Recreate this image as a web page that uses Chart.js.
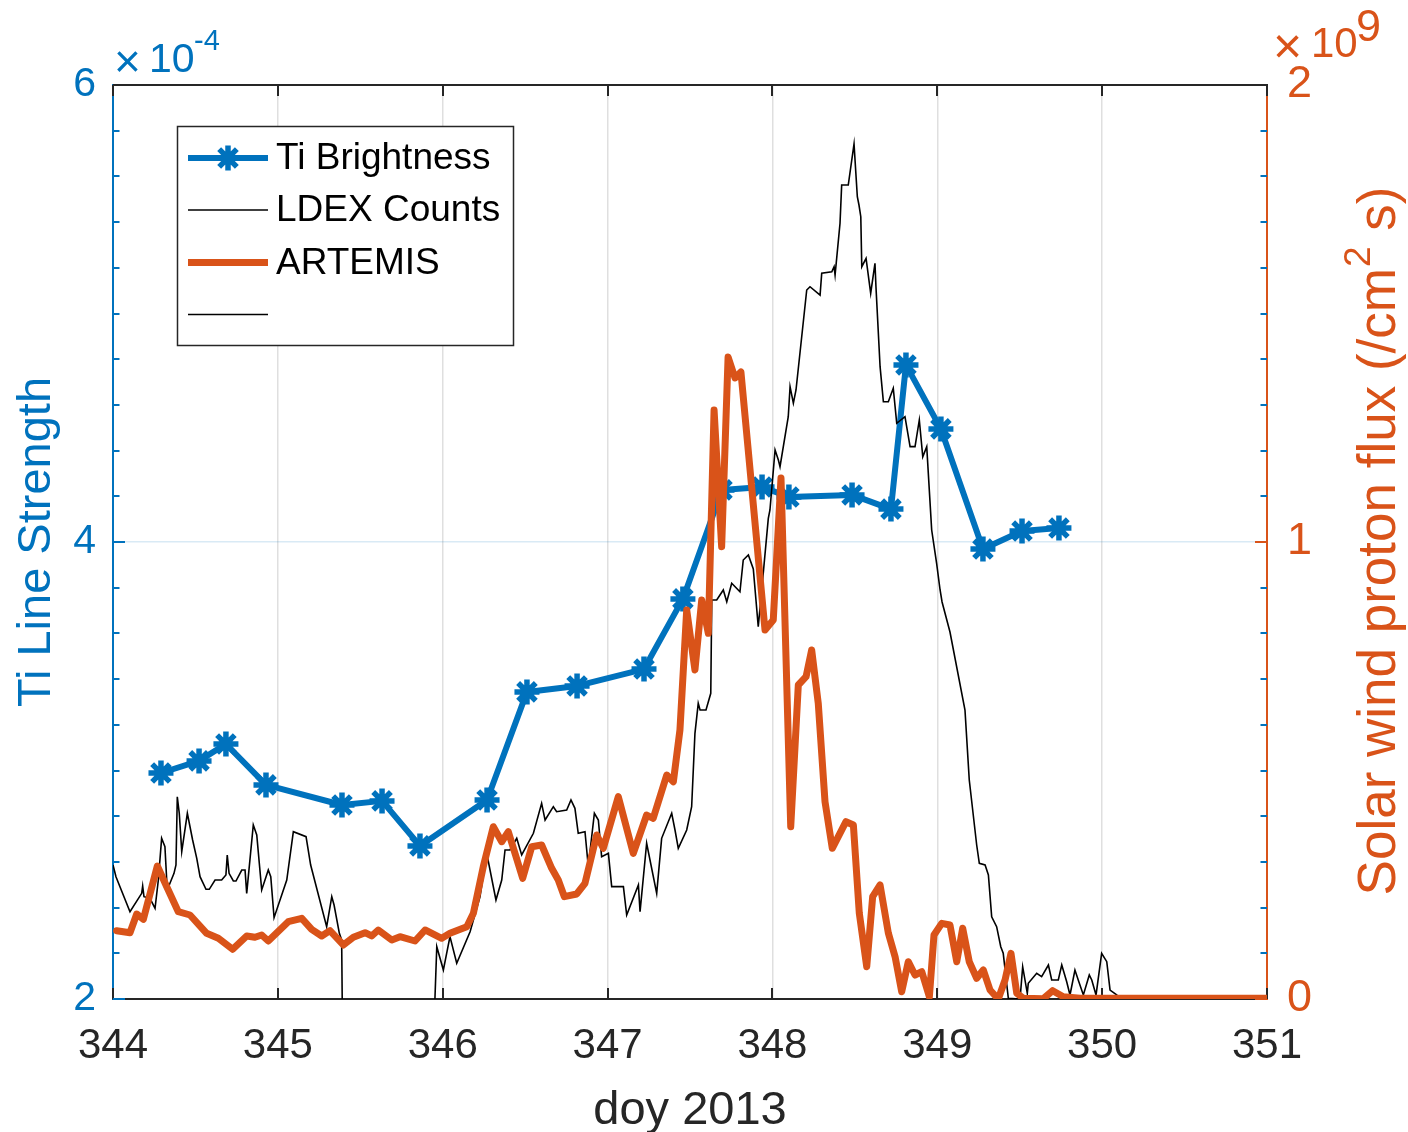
<!DOCTYPE html>
<html><head><meta charset="utf-8">
<script src="https://cdn.jsdelivr.net/npm/chart.js@4.4.1/dist/chart.umd.min.js"></script>
<style>html,body{margin:0;padding:0;background:#fff;overflow:hidden}canvas{display:block}</style>
</head><body>
<canvas id="c" width="1408" height="1132"></canvas>
<script>
const FONT = "'Liberation Sans', Arial, Helvetica, sans-serif";
const BLUE = '#0072BD', ORANGE = '#D95319', DARK = '#262626';

// ---- tick labels / axis texts ----
const xTickValues = [344, 345, 346, 347, 348, 349, 350, 351];
const leftTickValues = [2, 4, 6];       // x 10^-4
const rightTickValues = [0, 1, 2];      // x 10^9
const xTitle = 'doy 2013';
const leftTitle = 'Ti Line Strength';
const seriesNames = ['Ti Brightness', 'LDEX Counts', 'ARTEMIS', ''];

// ---- Ti brightness (units of 1e-4) ----
const tiDay = [344.291, 344.522, 344.685, 344.928, 345.389, 345.632, 345.862, 346.269, 346.511, 346.815, 347.221,
  347.457, 347.694, 347.937, 348.100, 348.483, 348.719, 348.810, 349.022, 349.277, 349.514, 349.738];
const tiBrightness = [2.989, 3.042, 3.116, 2.937, 2.849, 2.867, 2.670, 2.871, 3.344, 3.370, 3.444,
  3.751, 4.228, 4.241, 4.197, 4.206, 4.144, 4.775, 4.495, 3.969, 4.048, 4.061];

// ---- LDEX counts (arbitrary units, hidden axis 0..100) ----
const ldexDay = [344.000, 344.018, 344.103, 344.174, 344.180, 344.188, 344.224, 344.255, 344.275, 344.295,
  344.315, 344.329, 344.370, 344.382, 344.390, 344.402, 344.417, 344.451, 344.483, 344.508,
  344.528, 344.564, 344.584, 344.619, 344.659, 344.685, 344.693, 344.704, 344.730, 344.746,
  344.781, 344.801, 344.811, 344.851, 344.872, 344.902, 344.942, 344.957, 344.977, 345.054,
  345.094, 345.171, 345.199, 345.296, 345.327, 345.341, 345.373, 345.387, 345.393, 345.943,
  345.964, 346.004, 346.044, 346.085, 346.166, 346.226, 346.267, 346.323, 346.358, 346.378,
  346.408, 346.449, 346.479, 346.550, 346.600, 346.621, 346.671, 346.691, 346.752, 346.778,
  346.802, 346.822, 346.863, 346.883, 346.920, 346.944, 346.964, 347.005, 347.025, 347.096,
  347.116, 347.187, 347.197, 347.237, 347.298, 347.328, 347.389, 347.409, 347.429, 347.480,
  347.510, 347.530, 347.550, 347.561, 347.597, 347.626, 347.632, 347.662, 347.702, 347.723,
  347.753, 347.803, 347.823, 347.854, 347.884, 347.914, 347.935, 347.975, 347.985, 348.016,
  348.036, 348.046, 348.096, 348.107, 348.127, 348.143, 348.208, 348.228, 348.289, 348.299,
  348.360, 348.374, 348.380, 348.410, 348.420, 348.460, 348.495, 348.515, 348.525, 348.536,
  348.542, 348.568, 348.596, 348.622, 348.628, 348.653, 348.673, 348.703, 348.733, 348.754,
  348.804, 348.835, 348.865, 348.891, 348.912, 348.936, 348.966, 348.996, 349.017, 349.029,
  349.077, 349.168, 349.194, 349.239, 349.255, 349.290, 349.310, 349.330, 349.360, 349.385,
  349.400, 349.431, 349.502, 349.518, 349.546, 349.552, 349.603, 349.633, 349.674, 349.694,
  349.734, 349.755, 349.785, 349.805, 349.835, 349.855, 349.886, 349.922, 349.937, 349.963,
  349.997, 350.028, 350.048, 350.088, 350.108];
const ldexCounts = [14.66, 13.38, 9.55, 11.56, 12.36, 11.19, 11.02, 9.92, 13.02, 17.58,
  16.66, 11.93, 13.75, 14.66, 22.13, 20.32, 16.12, 20.32, 17.40, 15.39,
  13.38, 12.00, 12.00, 13.02, 13.02, 13.57, 15.76, 13.75, 12.91, 12.91,
  14.11, 14.11, 11.56, 19.04, 17.94, 11.93, 14.11, 13.38, 8.90, 13.02,
  18.30, 17.76, 14.66, 7.91, 11.19, 10.28, 7.19, 6.46, -5, -5,
  5.72, 3.17, 6.82, 3.91, 7.36, 11.19, 15.94, 10.83, 13.02, 16.30,
  16.30, 17.58, 15.76, 18.13, 21.41, 19.58, 21.04, 20.49, 20.68, 21.77,
  20.86, 18.13, 18.30, 14.48, 20.32, 19.58, 15.57, 15.94, 12.29, 12.29,
  9.19, 12.47, 9.55, 17.04, 11.56, 17.58, 20.32, 18.49, 16.49, 18.49,
  21.04, 29.07, 32.35, 31.62, 31.62, 33.45, 43.65, 43.65, 44.75, 43.47,
  45.48, 44.56, 48.03, 48.58, 47.05, 40.73, 44.75, 52.59, 53.50, 60.07,
  58.97, 58.24, 63.71, 66.99, 65.18, 66.63, 77.57, 77.93, 77.02, 79.40,
  79.57, 80.12, 79.21, 84.87, 89.06, 89.06, 93.55, 87.78, 86.87, 85.59,
  80.12, 81.04, 77.21, 80.49, 77.93, 69.18, 65.35, 65.35, 66.82, 62.99,
  63.71, 60.43, 60.43, 63.35, 59.33, 60.43, 51.31, 47.67, 44.75, 43.44,
  40.15, 31.62, 23.96, 16.85, 14.85, 14.66, 13.57, 9.00, 7.91, 5.72,
  5.00, 0.08, 0, 3.53, 0.62, 1.72, 2.81, 2.44, 3.72, 2.08,
  2.08, 3.72, 1.89, 0.44, 3.17, 2.08, 0.44, 2.63, 2.08, 0.44,
  5.00, 4.08, 0.98, 0.44, 0.08];

// ---- ARTEMIS solar wind proton flux (units of 1e9 /cm^2 s) ----
const artemisDay = [344.022, 344.103, 344.144, 344.184, 344.269, 344.326, 344.396, 344.467, 344.568, 344.639,
  344.726, 344.811, 344.861, 344.902, 344.942, 345.063, 345.145, 345.205, 345.266, 345.316,
  345.397, 345.458, 345.529, 345.569, 345.609, 345.691, 345.741, 345.832, 345.893, 345.994,
  346.044, 346.146, 346.186, 346.246, 346.307, 346.358, 346.398, 346.485, 346.540, 346.600,
  346.661, 346.701, 346.738, 346.813, 346.863, 346.934, 346.974, 347.065, 347.156, 347.237,
  347.277, 347.359, 347.399, 347.439, 347.480, 347.530, 347.571, 347.611, 347.646, 347.692,
  347.731, 347.773, 347.809, 347.955, 348.005, 348.052, 348.111, 348.157, 348.204, 348.238,
  348.278, 348.319, 348.363, 348.446, 348.491, 348.527, 348.572, 348.608, 348.653, 348.703,
  348.744, 348.784, 348.824, 348.865, 348.906, 348.952, 348.980, 349.027, 349.077, 349.118,
  349.154, 349.194, 349.239, 349.279, 349.320, 349.370, 349.411, 349.447, 349.482, 349.522,
  349.643, 349.700, 349.764, 349.866, 350.068, 350.998];
const artemisFlux = [0.1495, 0.1451, 0.1860, 0.1744, 0.2910, 0.2457, 0.1910, 0.1838, 0.1438, 0.1328,
  0.1088, 0.1379, 0.1350, 0.1400, 0.1269, 0.1692, 0.1766, 0.1525, 0.1379, 0.1495,
  0.1182, 0.1350, 0.1451, 0.1379, 0.1510, 0.1291, 0.1363, 0.1269, 0.1510, 0.1328,
  0.1438, 0.1582, 0.1875, 0.2895, 0.3770, 0.3442, 0.3661, 0.2641, 0.3333, 0.3370,
  0.2860, 0.2604, 0.2239, 0.2298, 0.2532, 0.3589, 0.3298, 0.4427, 0.3188, 0.4026,
  0.3954, 0.4902, 0.4755, 0.5886, 0.8512, 0.7199, 0.8731, 0.8002, 1.2888, 0.9897,
  1.4048, 1.3589, 1.3720, 0.8074, 0.8293, 1.1400, 0.3770, 0.6871, 0.7053, 0.7637,
  0.6470, 0.4317, 0.3298, 0.3880, 0.3807, 0.1875, 0.0707, 0.2239, 0.2495, 0.1444,
  0.0926, 0.0160, 0.0816, 0.0525, 0.0597, 0.0050, 0.1400, 0.1656, 0.1619, 0.0816,
  0.1547, 0.0816, 0.0453, 0.0635, 0.0197, 0.0000, 0.0416, 0.1000, 0.0125, 0.0015,
  0.0005, 0.0182, 0.0050, 0.0015, 0.0015, 0.0015];

const pts = (xs, ys) => xs.map((x, i) => ({x: x, y: ys[i]}));

function drawStar(ctx, cx, cy, r, lw, color) {
  ctx.save();
  ctx.strokeStyle = color; ctx.lineWidth = lw; ctx.lineCap = 'butt';
  ctx.beginPath();
  for (let k = 0; k < 4; k++) {
    const a = k * Math.PI / 4;
    ctx.moveTo(cx - r * Math.cos(a), cy - r * Math.sin(a));
    ctx.lineTo(cx + r * Math.cos(a), cy + r * Math.sin(a));
  }
  ctx.stroke();
  ctx.restore();
}

const decor = {
  id: 'decor',
  beforeDatasetsDraw(chart) {
    const {ctx, chartArea: a, scales} = chart;
    ctx.save();
    ctx.lineWidth = 2; ctx.lineCap = 'butt';
    // x tick marks, bottom and top (inward)
    ctx.strokeStyle = DARK;
    ctx.beginPath();
    xTickValues.forEach(v => {
      const px = Math.round(scales.x.getPixelForValue(v));
      ctx.moveTo(px, a.bottom); ctx.lineTo(px, a.bottom - 11);
      ctx.moveTo(px, a.top); ctx.lineTo(px, a.top + 11);
    });
    ctx.stroke();
    // left axis ticks (major + minor), mirrored minor ticks on right side
    ctx.strokeStyle = BLUE;
    ctx.beginPath();
    for (let k = 0; k <= 20; k++) {
      const v = leftTickValues[0] + k * (leftTickValues[1] - leftTickValues[0]) / 10;
      const py = Math.round(scales.y.getPixelForValue(v));
      const major = k % 10 === 0;
      ctx.moveTo(a.left, py); ctx.lineTo(a.left + (major ? 12 : 6.5), py);
      if (!major) { ctx.moveTo(a.right, py); ctx.lineTo(a.right - 6.5, py); }
    }
    ctx.stroke();
    // right axis major ticks
    ctx.strokeStyle = ORANGE;
    ctx.beginPath();
    rightTickValues.forEach(v => {
      const py = Math.round(scales.y2.getPixelForValue(v));
      ctx.moveTo(a.right, py); ctx.lineTo(a.right - 12, py);
    });
    ctx.stroke();
    // top frame line
    ctx.strokeStyle = DARK;
    ctx.beginPath(); ctx.moveTo(a.left, a.top); ctx.lineTo(a.right + 1, a.top); ctx.stroke();
    ctx.restore();
  },
  afterDraw(chart) {
    const {ctx} = chart;
    ctx.save();
    // ---- legend ----
    const box = {x: 177, y: 126, w: 336, h: 219};
    ctx.fillStyle = '#fff';
    ctx.fillRect(box.x, box.y, box.w, box.h);
    ctx.strokeStyle = DARK; ctx.lineWidth = 1.5;
    ctx.strokeRect(box.x + 0.5, box.y + 0.5, box.w, box.h);
    const rowY = [158, 210, 262.5, 314.5];
    chart.data.datasets.forEach((ds, i) => {
      const y = rowY[i];
      ctx.strokeStyle = ds.borderColor; ctx.lineWidth = ds.borderWidth; ctx.lineCap = 'butt';
      ctx.beginPath(); ctx.moveTo(188, y); ctx.lineTo(268, y); ctx.stroke();
      if (ds.pointStyle === 'star') drawStar(ctx, 228, y, ds.pointRadius, ds.pointBorderWidth, ds.borderColor);
      ctx.fillStyle = '#000';
      ctx.font = '37px ' + FONT;
      ctx.textBaseline = 'middle'; ctx.textAlign = 'left';
      ctx.fillText(seriesNames[i], 276, y + 1);
    });
    // ---- exponent labels ----
    ctx.textBaseline = 'alphabetic'; ctx.textAlign = 'left';
    ctx.fillStyle = BLUE;
    ctx.font = '46px ' + FONT; ctx.fillText('\u00D7', 114, 77);
    ctx.font = '41px ' + FONT; ctx.fillText('10', 149, 72);
    ctx.font = '29px ' + FONT; ctx.fillText('-4', 194, 50);
    ctx.fillStyle = ORANGE;
    ctx.font = '50px ' + FONT; ctx.fillText('\u00D7', 1273, 63);
    ctx.font = '42px ' + FONT; ctx.fillText('10', 1311, 57);
    ctx.font = '45px ' + FONT; ctx.fillText('9', 1356, 41);
    // ---- right axis title ----
    ctx.translate(1380, 542);
    ctx.rotate(-Math.PI / 2);
    ctx.textBaseline = 'middle';
    const p1 = 'Solar wind proton flux (/cm', p2 = '2', p3 = ' s)';
    ctx.font = '53px ' + FONT; const w1 = ctx.measureText(p1).width, w3 = ctx.measureText(p3).width;
    ctx.font = '37px ' + FONT; const w2 = ctx.measureText(p2).width;
    let x = -(w1 + w2 + w3) / 2;
    ctx.font = '53px ' + FONT; ctx.fillText(p1, x, 0); x += w1;
    ctx.font = '37px ' + FONT; ctx.fillText(p2, x + 1, -20); x += w2 + 2;
    ctx.font = '53px ' + FONT; ctx.fillText(p3, x, 0);
    ctx.restore();
  }
};

new Chart(document.getElementById('c'), {
  type: 'line',
  data: {
    datasets: [
      {label: seriesNames[0], data: pts(tiDay, tiBrightness), yAxisID: 'y', borderColor: BLUE, backgroundColor: BLUE,
        borderWidth: 6, pointStyle: 'star', pointRadius: 12.5, pointBorderWidth: 5.5, pointBorderColor: BLUE,
        pointBackgroundColor: BLUE, borderJoinStyle: 'round', order: 2, tension: 0},
      {label: seriesNames[1], data: pts(ldexDay, ldexCounts), yAxisID: 'yL', borderColor: '#000', borderWidth: 1.6,
        pointRadius: 0, order: 1, tension: 0},
      {label: seriesNames[2], data: pts(artemisDay, artemisFlux), yAxisID: 'y2', borderColor: ORANGE, borderWidth: 7,
        pointRadius: 0, borderJoinStyle: 'round', borderCapStyle: 'round', order: 0, tension: 0},
      {label: seriesNames[3], data: [], yAxisID: 'yL', borderColor: '#000', borderWidth: 1.6, pointRadius: 0, order: 3}
    ]
  },
  options: {
    responsive: false, animation: false, devicePixelRatio: 1, events: [],
    layout: {padding: {top: 85, left: 0, right: 0, bottom: 0}},
    plugins: {legend: {display: false}, tooltip: {enabled: false}},
    scales: {
      x: {
        type: 'linear', position: 'bottom', min: 344, max: 351,
        afterBuildTicks: s => { s.ticks = xTickValues.map(v => ({value: v})); },
        afterFit: s => { s.height = 133; },
        ticks: {color: DARK, font: {family: FONT, size: 42}, padding: 22, maxRotation: 0, autoSkip: false,
          callback: v => String(v)},
        grid: {color: 'rgba(38,38,38,0.15)', lineWidth: 1.5, drawTicks: false},
        border: {color: DARK, width: 2},
        title: {display: true, text: xTitle, color: DARK, font: {family: FONT, size: 47, lineHeight: 0.8}, padding: {top: 0, bottom: 2}}
      },
      y: {
        position: 'left', min: 2, max: 6,
        afterBuildTicks: s => { s.ticks = leftTickValues.map(v => ({value: v})); },
        afterFit: s => { s.width = 113; },
        ticks: {color: BLUE, font: {family: FONT, size: 41}, padding: 17, autoSkip: false, callback: v => String(v)},
        grid: {color: c => (c.tick && c.tick.value === leftTickValues[1]) ? 'rgba(0,114,189,0.15)' : 'rgba(0,0,0,0)',
          lineWidth: 1.5, drawTicks: false},
        border: {color: BLUE, width: 2},
        title: {display: true, text: leftTitle, color: BLUE, font: {family: FONT, size: 47, lineHeight: 1.2}, padding: {top: 9, bottom: 0}}
      },
      y2: {
        position: 'right', min: 0, max: 2,
        afterBuildTicks: s => { s.ticks = rightTickValues.map(v => ({value: v})); },
        afterFit: s => { s.width = 141; },
        ticks: {color: ORANGE, font: {family: FONT, size: 45}, padding: 20, autoSkip: false, callback: v => String(v)},
        grid: {drawOnChartArea: false, drawTicks: false},
        border: {color: ORANGE, width: 2}
      },
      yL: {display: false, min: 0, max: 100}
    }
  },
  plugins: [decor]
});
</script>
</body></html>
